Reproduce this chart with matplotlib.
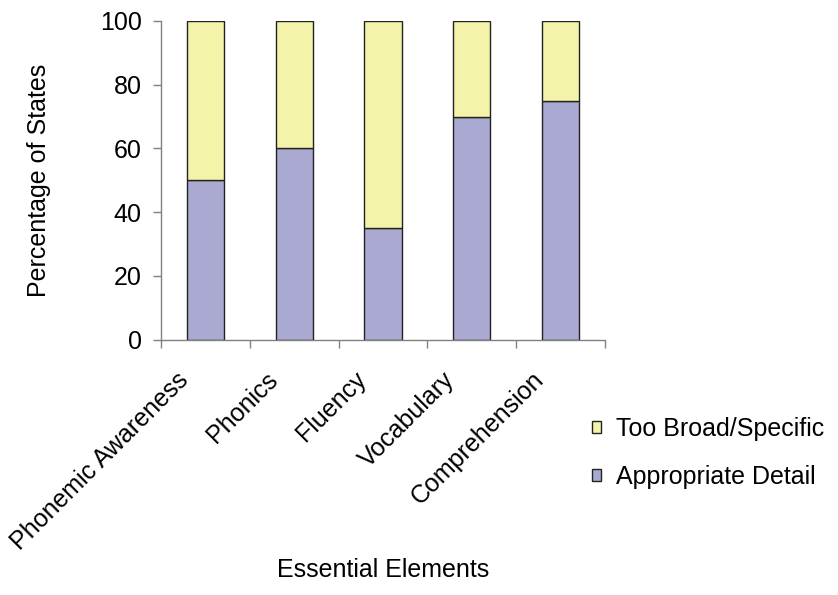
import matplotlib
matplotlib.use("Agg")
import matplotlib.pyplot as plt
import matplotlib.transforms as mtransforms
from matplotlib.patches import Patch
import numpy as np

# ---------------------------------------------------------------------------
# DATA
# ---------------------------------------------------------------------------
categories = ["Phonemic Awareness", "Phonics", "Fluency", "Vocabulary",
              "Comprehension"]
appropriate = [50, 60, 35, 70, 75]
too_broad = [50, 40, 65, 30, 25]
series_names = ["Too Broad/Specific", "Appropriate Detail"]
yticks = [0, 20, 40, 60, 80, 100]

PURPLE = "#A9A9D1"
YELLOW = "#F3F3A9"
GREY = "#808080"

plt.rcParams["font.family"] = ["Liberation Sans", "DejaVu Sans"]
plt.rcParams["font.size"] = 18

fig = plt.figure(figsize=(8.38, 5.95), dpi=100)
ax = fig.add_axes([161 / 838, 1 - 339.5 / 595, 444 / 838, 318.5 / 595])

x = np.arange(len(categories))
ax.bar(x, appropriate, width=0.42, color=PURPLE, edgecolor="#222222",
       linewidth=1, zorder=2)
ax.bar(x, too_broad, width=0.42, bottom=appropriate, color=YELLOW,
       edgecolor="#222222", linewidth=1, zorder=2)

ax.set_xlim(-0.5, len(categories) - 0.5)
ax.set_ylim(0, 100)
ax.set_yticks(yticks)

for side in ("top", "right"):
    ax.spines[side].set_visible(False)
for side in ("left", "bottom"):
    ax.spines[side].set_color(GREY)
    ax.spines[side].set_linewidth(1)

ax.tick_params(axis="y", direction="out", length=6, width=1, color=GREY,
               pad=8)

# boundary ticks between categories; category names drawn as rotated text
ax.set_xticks(np.arange(len(categories) + 1) - 0.5)
ax.set_xticklabels([])
ax.tick_params(axis="x", direction="out", length=6, width=1, color=GREY)

offset = mtransforms.ScaledTranslation(-29 / 100, -28 / 100,
                                       fig.dpi_scale_trans)
for xi, name in zip(x, categories):
    ax.text(xi, 0, name, rotation=45, ha="right", va="top",
            rotation_mode="anchor",
            transform=ax.get_xaxis_transform() + offset)

ax.set_ylabel("Percentage of States")
ax.yaxis.set_label_coords(-0.247, 0.5)
fig.text(383 / 838, 1 - 570 / 595, "Essential Elements", ha="center",
         va="center")

handles = [Patch(facecolor=YELLOW, edgecolor="#222222", linewidth=1),
           Patch(facecolor=PURPLE, edgecolor="#222222", linewidth=1)]
fig.legend(handles, series_names, loc="center left",
           bbox_to_anchor=(592 / 838, 1 - 453 / 595), frameon=False,
           handlelength=0.36, handleheight=0.36, handletextpad=0.6,
           labelspacing=0.95, borderpad=0, borderaxespad=0)

fig.savefig("out.png", dpi=100)
